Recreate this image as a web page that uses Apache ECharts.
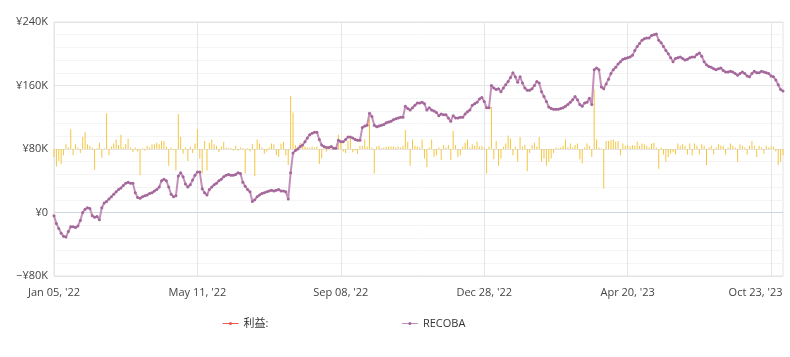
<!DOCTYPE html>
<html>
<head>
<meta charset="utf-8">
<script src="https://cdn.jsdelivr.net/npm/echarts@6/dist/echarts.min.js"></script>
<style>
html,body{margin:0;padding:0;background:#fff;}
#chart{width:790px;height:357px;}
</style>
</head>
<body>
<div id="chart"></div>
<script>
// Tick labels shown on the category axis (every 60th point)
const tickLabels = ["Jan 05, '22", "May 11, '22", "Sep 08, '22", "Dec 28, '22", "Apr 20, '23", "Oct 23, '23"];
const labelEvery = 60;

// Cumulative series RECOBA (thousand yen)
const recoba = [
 -4,-14,-20,-26,-30,-31,-24,-18,-18,-19,
 -17,-10,0,4,6,5,-4,-6,-5,-9,
 6,12,14,17,20,23,26,29,31,34,
 37,38,37,37,25,19,18,20,21,22,
 24,25,27,29,32,40,42,40,32,23,
 20,21,46,50,45,36,32,35,41,47,
 51,51,30,25,22,29,32,35,37,40,
 42,45,47,48,47,47,48,50,49,38,
 33,29,26,14,16,20,22,24,25,26,
 27,28,27,28,29,27,27,26,17,50,
 75,78,80,83,85,89,94,98,100,101,
 101,92,85,83,82,82,83,81,81,91,
 89,89,92,95,95,94,92,91,91,107,
 109,110,125,121,110,108,109,110,111,113,
 114,115,117,118,119,120,120,134,131,129,
 132,135,138,138,139,137,129,132,129,128,
 126,122,124,123,123,119,115,122,119,119,
 120,120,124,127,129,135,137,139,143,145,
 140,132,132,160,157,155,156,152,157,161,
 165,170,176,171,164,171,163,157,154,154,
 156,160,165,163,152,146,140,133,131,130,
 130,130,131,132,134,136,139,142,146,142,
 136,134,138,139,144,136,180,182,180,158,
 156,162,168,175,180,183,187,190,193,194,
 195,196,198,204,209,213,217,219,220,220,
 223,224,225,217,214,209,204,200,195,190,
 194,195,196,194,192,193,195,196,196,199,
 201,197,190,186,184,183,181,180,181,182,
 179,177,177,178,177,175,173,175,177,175,
 172,171,175,178,176,176,178,177,176,175,
 172,171,167,161,155,153
];

// Per-point profit bars 利益 (thousand yen)
const profit = [
 -10,-22,-15,-19,-8,6,2,25,-8,6,
 2,-5,15,21,6,4,2,-26,1,8,
 -11,1,45,-8,3,7,12,5,18,2,
 6,13,2,-4,2,-3,-33,1,-2,4,
 2,6,6,8,6,10,10,3,-21,2,
 -1,-27,44,15,-6,2,-15,3,-5,7,
 25,-12,-31,10,-27,8,12,6,4,-4,
 3,9,2,1,1,-2,4,-2,2,1,
 -31,1,-3,6,-34,12,7,2,-6,-3,
 2,7,6,-8,-10,7,9,-8,-20,67,
 46,5,3,8,5,3,2,2,3,2,
 3,-19,-12,2,-3,2,3,1,2,18,
 12,-3,-5,10,15,-4,-2,-6,4,4,
 12,3,38,2,-31,3,4,1,2,3,
 3,3,3,2,3,2,4,24,9,-21,
 12,4,3,2,12,-12,-23,2,12,-10,
 -8,2,-14,5,2,5,-14,23,5,-10,
 -8,3,8,12,2,6,4,9,3,4,
 2,-31,3,53,-13,10,-21,-12,3,7,
 17,13,-8,3,-16,15,3,5,-28,-5,
 5,8,3,15,-16,-12,-21,-16,-12,-5,
 2,1,2,4,12,2,7,2,5,7,
 -13,-18,2,7,4,-10,75,12,2,1,
 -50,10,10,11,12,9,10,-8,7,4,
 5,3,5,4,9,4,7,6,4,2,
 7,8,2,-25,2,-7,-16,-10,-6,-4,
 -7,7,4,6,4,-7,7,-8,7,4,
 -7,6,4,-20,2,4,-7,2,6,4,
 4,-7,2,7,4,2,-16,6,4,2,
 -7,4,10,4,-10,4,2,-6,4,2,
 3,3,-3,-20,-16,-8
];

const categories = recoba.map((_, i) =>
  i % labelEvery === 0 && tickLabels[i / labelEvery] !== undefined ? tickLabels[i / labelEvery] : 'p' + i);
const lastTick = tickLabels[tickLabels.length - 1];

const FONT = "'Open Sans', 'Noto Sans CJK JP', sans-serif";

const chart = echarts.init(document.getElementById('chart'), null, {renderer: 'canvas'});
chart.setOption({
  animation: false,
  backgroundColor: '#ffffff',
  grid: {left: 54, right: 7, top: 22, bottom: 81, show: true, borderColor: '#e3e3e3', borderWidth: 1,
         containLabel: false, outerBoundsMode: 'none'},
  legend: {
    left: 217, top: 313,
    itemWidth: 16, itemHeight: 4, itemGap: 133,
    lineStyle: {width: 1},
    textStyle: {fontFamily: FONT, fontSize: 11, color: '#333'},
    data: ['利益:', 'RECOBA']
  },
  xAxis: {
    type: 'category',
    data: categories,
    boundaryGap: false,
    axisTick: {show: false},
    axisLine: {lineStyle: {color: '#cfd6e0'}},
    axisLabel: {
      interval: labelEvery - 1, color: '#444', fontFamily: FONT, fontSize: 11, margin: 11,
      formatter: v => v === lastTick ? '{last|' + v + '}' : v,
      rich: {last: {padding: [0, 31, 0, 0], color: '#444', fontFamily: FONT, fontSize: 11}}
    },
    splitLine: {show: true, interval: labelEvery - 1, lineStyle: {color: '#e6e6e6'}}
  },
  yAxis: [{
    type: 'value',
    min: -80, max: 240, interval: 80,
    axisLine: {show: false},
    axisTick: {show: false},
    axisLabel: {
      color: '#444', fontFamily: FONT, fontSize: 11, margin: 6,
      formatter: v => (v < 0 ? '\u2212' : '') + '\u00a5' + (v === 0 ? '0' : Math.abs(v) + 'K')
    },
    splitLine: {lineStyle: {color: '#e4e4e4'}},
    minorTick: {show: false, splitNumber: 5},
    minorSplitLine: {show: true, lineStyle: {color: '#f4f4f4'}}
  }, {
    type: 'value',
    min: -160, max: 160,
    show: false,
    splitLine: {show: false}
  }],
  series: [{
    name: 'profitBars',
    type: 'bar',
    yAxisIndex: 1,
    data: profit,
    barWidth: 1,
    itemStyle: {color: '#f3c640'},
    z: 2
  }, {
    name: '利益:',
    type: 'line',
    data: [],
    color: '#ec5a50',
    symbol: 'circle',
    symbolSize: 3,
    lineStyle: {width: 1}
  }, {
    name: 'RECOBA',
    type: 'line',
    data: recoba,
    color: '#b27aa8',
    symbol: 'circle',
    symbolSize: 3,
    showSymbol: true,
    showAllSymbol: true,
    lineStyle: {width: 2, color: '#c390bb'},
    itemStyle: {color: '#a4679a'},
    z: 5
  }]
});
</script>
</body>
</html>
